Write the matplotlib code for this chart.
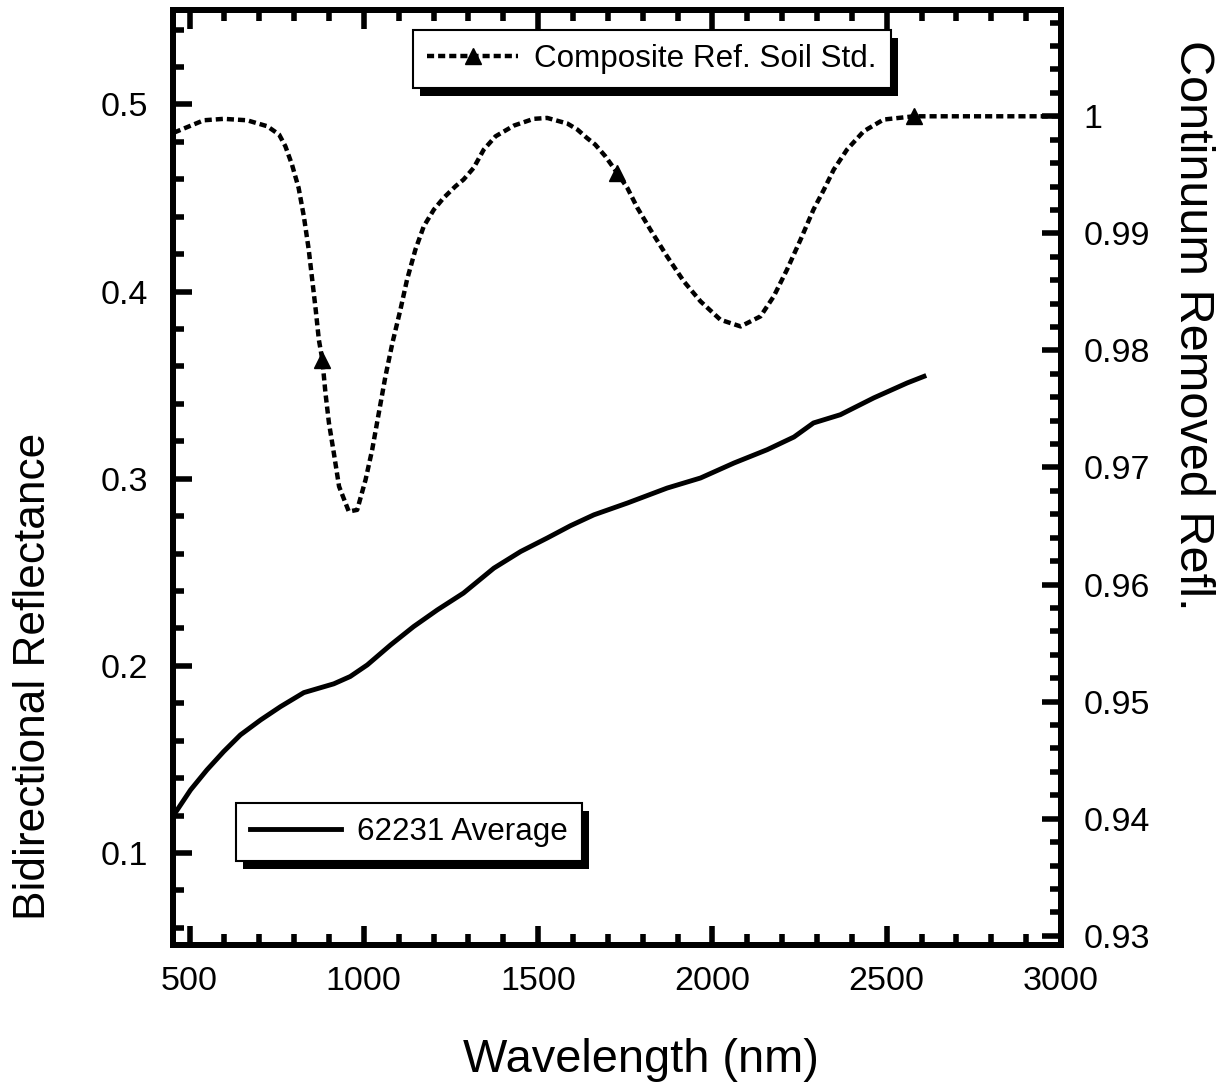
import numpy as np
import matplotlib
matplotlib.use('Agg')
import matplotlib.pyplot as plt
from matplotlib.lines import Line2D
from matplotlib.patches import Rectangle
from matplotlib.transforms import IdentityTransform
from matplotlib.ticker import MultipleLocator, FuncFormatter

plt.rcParams['font.family'] = ['Liberation Sans', 'DejaVu Sans']

# 62231 average spectrum (left axis)
wl_avg = [455, 503, 550, 598, 646, 704, 761, 828, 914, 961, 1010, 1077, 1143,
          1211, 1286, 1373, 1450, 1526, 1593, 1660, 1756, 1870, 1966, 2062,
          2157, 2234, 2290, 2367, 2463, 2559, 2607]
refl_avg = [0.1203, 0.1337, 0.1444, 0.1542, 0.1631, 0.1711, 0.1782, 0.1857,
            0.1904, 0.1943, 0.2005, 0.2112, 0.2210, 0.2299, 0.2389, 0.2522,
            0.2611, 0.2683, 0.2749, 0.2807, 0.2870, 0.2950, 0.3004, 0.3084,
            0.3155, 0.3223, 0.3298, 0.3342, 0.3432, 0.3512, 0.3547]

# composite reference soil standard, continuum removed (right axis)
wl_std = [455, 541, 598, 665, 723, 757, 775, 794, 813, 828, 842, 852, 862, 871,
          881, 890, 900, 914, 929, 957, 981, 1005, 1024, 1043, 1062, 1082,
          1105, 1124, 1148, 1172, 1201, 1229, 1263, 1286, 1315, 1344, 1378,
          1431, 1487, 1526, 1584, 1613, 1640, 1664, 1693, 1727, 1756, 1785,
          1822, 1870, 1918, 1966, 2023, 2081, 2138, 2176, 2214, 2253, 2290,
          2320, 2348, 2386, 2434, 2491, 2578, 3000]
refl_std = [0.9986, 0.99966, 0.99978, 0.99966, 0.99915, 0.99844, 0.99744,
            0.99587, 0.99388, 0.99145, 0.98861, 0.98604, 0.98348, 0.98092,
            0.97921, 0.97636, 0.97380, 0.97124, 0.96838, 0.96624, 0.96638,
            0.96895, 0.97151, 0.97465, 0.97778, 0.98063, 0.98348, 0.98604,
            0.98861, 0.99060, 0.99203, 0.99303, 0.99402, 0.99459, 0.99559,
            0.99715, 0.99829, 0.99921, 0.99978, 0.99986, 0.99938, 0.99886,
            0.99815, 0.99758, 0.99658, 0.99516, 0.99388, 0.99217, 0.99032,
            0.98803, 0.98590, 0.98419, 0.98262, 0.98205, 0.98291, 0.98462,
            0.98690, 0.98947, 0.99203, 0.99374, 0.99544, 0.99715, 0.99872,
            0.99972, 1.0, 1.0]
marker_wl = [881, 1727, 2578]

label_avg = '62231 Average'
label_std = 'Composite Ref. Soil Std.'

DOTS = (0, (1.6, 0.9))

fig = plt.figure(figsize=(12.26, 10.85), dpi=100)
ax = fig.add_axes([0.1415, 0.1290, 0.7239, 0.8618])
ax2 = ax.twinx()

line_avg, = ax.plot(wl_avg, refl_avg, color='black', lw=3.5,
                    solid_joinstyle='round')
ax2.plot(wl_std, refl_std, color='black', lw=3.2, linestyle=DOTS)
idx = [wl_std.index(w) for w in marker_wl]
ax2.plot([wl_std[i] for i in idx], [refl_std[i] for i in idx],
         linestyle='none', marker='^', ms=12, color='black')

ax.set_xlim(454, 3000)
ax.set_ylim(0.0508, 0.5505)
ax2.set_ylim(0.92921, 1.00908)

ax.xaxis.set_major_locator(MultipleLocator(500))
ax.xaxis.set_minor_locator(MultipleLocator(100))
ax.yaxis.set_major_locator(MultipleLocator(0.1))
ax.yaxis.set_minor_locator(MultipleLocator(0.02))
ax2.yaxis.set_major_locator(MultipleLocator(0.01))
ax2.yaxis.set_minor_locator(MultipleLocator(0.002))
fmt = FuncFormatter(lambda v, p: f'{v:g}')
ax.yaxis.set_major_formatter(fmt)
ax2.yaxis.set_major_formatter(fmt)

for a in (ax, ax2):
    for s in a.spines.values():
        s.set_linewidth(4.3)
    a.tick_params(which='both', direction='in', width=4, labelsize=24.5)
    a.tick_params(which='major', length=14)
    a.tick_params(which='minor', length=8)
ax.tick_params(axis='x', which='both', top=True, pad=15)
ax.tick_params(axis='y', pad=18)
ax2.tick_params(axis='y', pad=16)

ax.set_xlabel('Wavelength (nm)', fontsize=33.8)
ax.xaxis.set_label_coords(0.527, -0.136)
ax.xaxis.label.set_va('baseline')

ax.set_ylabel('Bidirectional Reflectance', fontsize=31.9)
ax.yaxis.set_label_coords(-0.145, 0.287)
ax.yaxis.label.set_rotation_mode('anchor')
ax.yaxis.label.set_va('baseline')

ax2.set_ylabel('Continuum Removed Refl.', fontsize=35, rotation=-90)
ax2.yaxis.set_label_coords(1.134, 0.663)
ax2.yaxis.label.set_rotation_mode('anchor')
ax2.yaxis.label.set_va('baseline')

leg_kw = dict(loc='upper left', bbox_transform=fig.transFigure,
              borderaxespad=0, fontsize=22.6, handlelength=2.9,
              handletextpad=0.5, borderpad=0.45, fancybox=False,
              framealpha=1, edgecolor='black')
h_std = Line2D([], [], color='black', lw=3.2, linestyle=DOTS,
               marker='^', ms=12)
leg1 = ax2.legend([h_std], [label_std], bbox_to_anchor=(0.3369, 0.9724),
                  **leg_kw)
leg1.get_frame().set_linewidth(1.5)
ax2.add_artist(leg1)
leg2 = ax2.legend([line_avg], [label_avg], bbox_to_anchor=(0.1925, 0.2599),
                  **leg_kw)
leg2.get_frame().set_linewidth(1.5)

# drop shadows behind the legend boxes
fig.canvas.draw()
renderer = fig.canvas.get_renderer()
for leg in (leg1, leg2):
    bb = leg.get_frame().get_window_extent(renderer)
    ax2.add_patch(Rectangle((bb.x0 + 7, bb.y0 - 8), bb.width, bb.height,
                            transform=IdentityTransform(), facecolor='black',
                            edgecolor='none', zorder=4.5))

fig.savefig('out.png', dpi=100)
